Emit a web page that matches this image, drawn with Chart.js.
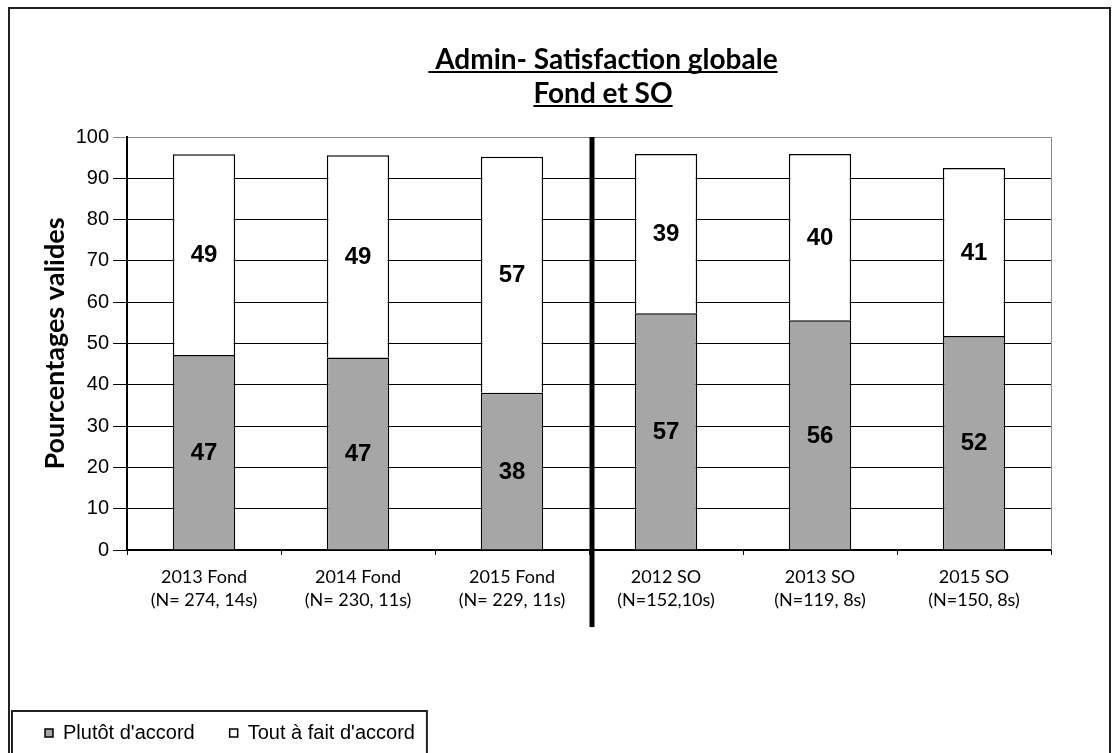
<!DOCTYPE html>
<html>
<head>
<meta charset="utf-8">
<script src="https://cdn.jsdelivr.net/npm/chart.js@4.4.0/dist/chart.umd.min.js"></script>
<style>
  html, body { margin: 0; padding: 0; background: #fff; }
  #wrap { width: 1120px; height: 753px; }
</style>
</head>
<body>
<div id="wrap"><canvas id="chart" width="1120" height="753"></canvas></div>
<script>
// --- Données ---
const categories = [
  ["2013 Fond", "(N= 274, 14s)"],
  ["2014 Fond", "(N= 230, 11s)"],
  ["2015 Fond", "(N= 229, 11s)"],
  ["2012 SO", "(N=152,10s)"],
  ["2013 SO", "(N=119, 8s)"],
  ["2015 SO", "(N=150, 8s)"]
];
const plutotAccord = [47.2, 46.6, 38.1, 57.3, 55.6, 51.8];
const toutAFait = [48.6, 49.0, 57.1, 38.6, 40.3, 40.7];
const yTicks = [0, 10, 20, 30, 40, 50, 60, 70, 80, 90, 100];
const titleLines = [" Admin- Satisfaction globale", "Fond et SO"];
const seriesNames = ["Plutôt d'accord", "Tout à fait d'accord"];

const CALIBRI = "Lato, 'Open Sans', sans-serif";
const ARIAL = "'Liberation Sans', Arial, sans-serif";

// Titre souligné, en deux lignes
const titlePlugin = {
  id: "underlinedTitle",
  afterDraw(chart) {
    const ctx = chart.ctx;
    const cx = (chart.chartArea.left + chart.chartArea.right) / 2 + 14;
    const baselines = [69, 103];
    ctx.save();
    ctx.font = "bold 28px " + CALIBRI;
    ctx.fillStyle = "#000";
    ctx.textAlign = "left";
    ctx.textBaseline = "alphabetic";
    titleLines.forEach((line, i) => {
      const w = ctx.measureText(line).width;
      const x0 = cx - w / 2;
      ctx.fillText(line, x0, baselines[i]);
      ctx.fillRect(x0, baselines[i] + 2, w, 2);
    });
    ctx.restore();
  }
};

// Étiquettes de valeur au centre de chaque segment
const valueLabels = {
  id: "valueLabels",
  afterDatasetsDraw(chart) {
    const ctx = chart.ctx;
    ctx.save();
    ctx.font = "bold 24px " + ARIAL;
    ctx.fillStyle = "#000";
    ctx.textAlign = "center";
    ctx.textBaseline = "middle";
    chart.data.datasets.forEach((ds, di) => {
      chart.getDatasetMeta(di).data.forEach((bar, i) => {
        const p = bar.getCenterPoint();
        ctx.fillText(String(Math.round(ds.data[i])), p.x, p.y + 1);
      });
    });
    ctx.restore();
  }
};

// Cadres, séparateur Fond / SO
const decorations = {
  id: "decorations",
  afterDraw(chart) {
    const ctx = chart.ctx;
    const area = chart.chartArea;
    const x = chart.scales.x;
    ctx.save();

    // bord droit du graphique (gris)
    ctx.strokeStyle = "#888";
    ctx.lineWidth = 1;
    ctx.beginPath();
    ctx.moveTo(area.right + 0.5, area.top);
    ctx.lineTo(area.right + 0.5, area.bottom);
    ctx.stroke();

    // séparateur épais
    const sx = (x.getPixelForValue(2) + x.getPixelForValue(3)) / 2 + 3;
    ctx.strokeStyle = "#000";
    ctx.lineWidth = 5;
    ctx.beginPath();
    ctx.moveTo(sx, area.top);
    ctx.lineTo(sx, area.bottom + 77);
    ctx.stroke();

    // cadre extérieur
    ctx.strokeStyle = "#222";
    ctx.lineWidth = 2;
    ctx.strokeRect(9, 8, 1101, 800);

    // cadre de la légende
    const boxes = chart.legend.legendHitBoxes;
    if (boxes && boxes.length) {
      const last = boxes[boxes.length - 1];
      const top = boxes[0].top - 12;
      const right = last.left + last.width + 12;
      ctx.strokeStyle = "#222";
      ctx.lineWidth = 2;
      ctx.strokeRect(12, top, right - 12, 100);
    }
    ctx.restore();
  }
};

const ctx = document.getElementById("chart").getContext("2d");
new Chart(ctx, {
  type: "bar",
  data: {
    labels: categories,
    datasets: [
      {
        label: seriesNames[0],
        data: plutotAccord,
        backgroundColor: "#a6a6a6",
        borderColor: "#000",
        borderWidth: 1.5
      },
      {
        label: seriesNames[1],
        data: toutAFait,
        backgroundColor: "#ffffff",
        borderColor: "#000",
        borderWidth: 1.5
      }
    ]
  },
  options: {
    responsive: false,
    animation: false,
    devicePixelRatio: 1,
    layout: { padding: { top: 137, left: 10, right: 69, bottom: 0 } },
    datasets: { bar: { categoryPercentage: 1, barPercentage: 0.405 } },
    plugins: {
      title: { display: false },
      tooltip: { enabled: false },
      legend: {
        position: "bottom",
        align: "start",
        labels: {
          boxWidth: 8,
          boxHeight: 8,
          padding: 35,
          color: "#000",
          font: { family: ARIAL, size: 20 }
        }
      }
    },
    scales: {
      x: {
        stacked: true,
        afterFit: (scale) => { scale.height = 138; },
        grid: { display: true, drawOnChartArea: false, offset: true, color: "#000", tickLength: 5 },
        border: { color: "#000", width: 2 },
        ticks: {
          color: "#000",
          padding: 10,
          maxRotation: 0,
          autoSkip: false,
          font: { family: CALIBRI, size: 18, lineHeight: 1.3 }
        }
      },
      y: {
        stacked: true,
        min: 0,
        max: 100,
        afterFit: (scale) => { scale.width = 117; },
        afterBuildTicks: (scale) => { scale.ticks = yTicks.map(v => ({ value: v })); },
        grid: {
          color: (c) => (c.tick && c.tick.value === 100 ? "#888" : "#000"),
          lineWidth: 1,
          tickLength: 14
        },
        border: { color: "#000", width: 2 },
        ticks: {
          color: "#000",
          padding: 4,
          font: { family: ARIAL, size: 20 }
        },
        title: {
          display: true,
          text: "Pourcentages valides",
          color: "#000",
          font: { family: CALIBRI, size: 27, weight: "bold" },
          padding: { top: 29, bottom: 0 }
        }
      }
    }
  },
  plugins: [titlePlugin, valueLabels, decorations]
});
</script>
</body>
</html>
